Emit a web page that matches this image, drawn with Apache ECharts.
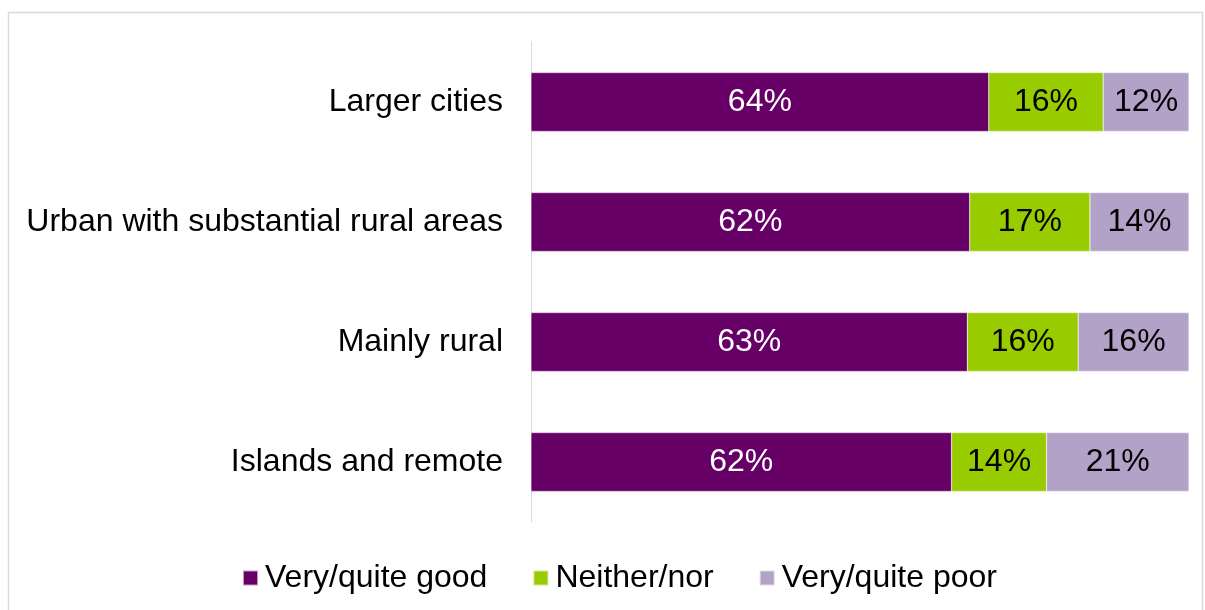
<!DOCTYPE html>
<html>
<head>
<meta charset="utf-8">
<script src="https://cdn.jsdelivr.net/npm/echarts@6/dist/echarts.min.js"></script>
<style>
html, body { margin: 0; padding: 0; background: #fff; }
#chart { width: 1205px; height: 610px; }
</style>
</head>
<body>
<div id="chart"></div>
<script>
	'use strict'

	/*-----data-----*/
	var categories = ['Larger cities', 'Urban with substantial rural areas', 'Mainly rural', 'Islands and remote'];
	var seriesNames = ['Very/quite good', 'Neither/nor', 'Very/quite poor'];
	var good = [64, 62, 63, 62];
	var neither = [16, 17, 16, 14];
	var poor = [12, 14, 16, 21];
	var colors = ['#660066', '#99cc00', '#b3a2c7'];
	var labelColors = ['#ffffff', '#000000', '#000000'];

	// bars are drawn as share of each row (100% stacked), labels show the survey value
	var rows = [good, neither, poor];
	var totals = categories.map(function(c, i) {
		return good[i] + neither[i] + poor[i];
	});

	var font = '"Liberation Sans", Arial, sans-serif';

	var series = rows.map(function(vals, s) {
		return {
			name: seriesNames[s],
			type: 'bar',
			stack: 'total',
			barWidth: '49%',
			data: vals.map(function(v, i) {
				return v / totals[i] * 100;
			}),
			itemStyle: {
				color: colors[s],
				borderColor: 'rgba(255,255,255,0.6)',
				borderWidth: 0.5
			},
			label: {
				show: true,
				position: 'inside',
				color: labelColors[s],
				fontFamily: font,
				fontSize: 32,
				formatter: function(p) {
					return vals[p.dataIndex] + '%';
				}
			}
		};
	});

	var chart = echarts.init(document.getElementById('chart'));
	var option = {
		animation: false,
		color: colors,
		grid: {
			top: 42,
			bottom: 88,
			left: 531,
			right: 16,
			containLabel: false
		},
		xAxis: {
			type: 'value',
			min: 0,
			max: 100,
			show: false
		},
		yAxis: {
			type: 'category',
			inverse: true,
			data: categories,
			axisLine: {
				lineStyle: { color: '#d9d9d9', width: 1 }
			},
			axisTick: { show: false },
			axisLabel: {
				fontFamily: font,
				fontSize: 32,
				color: '#000',
				margin: 28
			}
		},
		legend: {
			top: 557,
			left: 237,
			itemWidth: 15,
			itemHeight: 15,
			itemGap: 45,
			icon: 'rect',
			textStyle: {
				fontFamily: font,
				fontSize: 32,
				color: '#000',
				padding: [0, 0, 0, 2]
			},
			data: seriesNames
		},
		graphic: [{
			type: 'rect',
			shape: { x: 8.5, y: 12.5, width: 1194, height: 620 },
			style: { fill: 'none', stroke: '#d9d9d9', lineWidth: 1.5 },
			silent: true
		}],
		series: series
	};
	chart.setOption(option);
</script>
</body>
</html>
